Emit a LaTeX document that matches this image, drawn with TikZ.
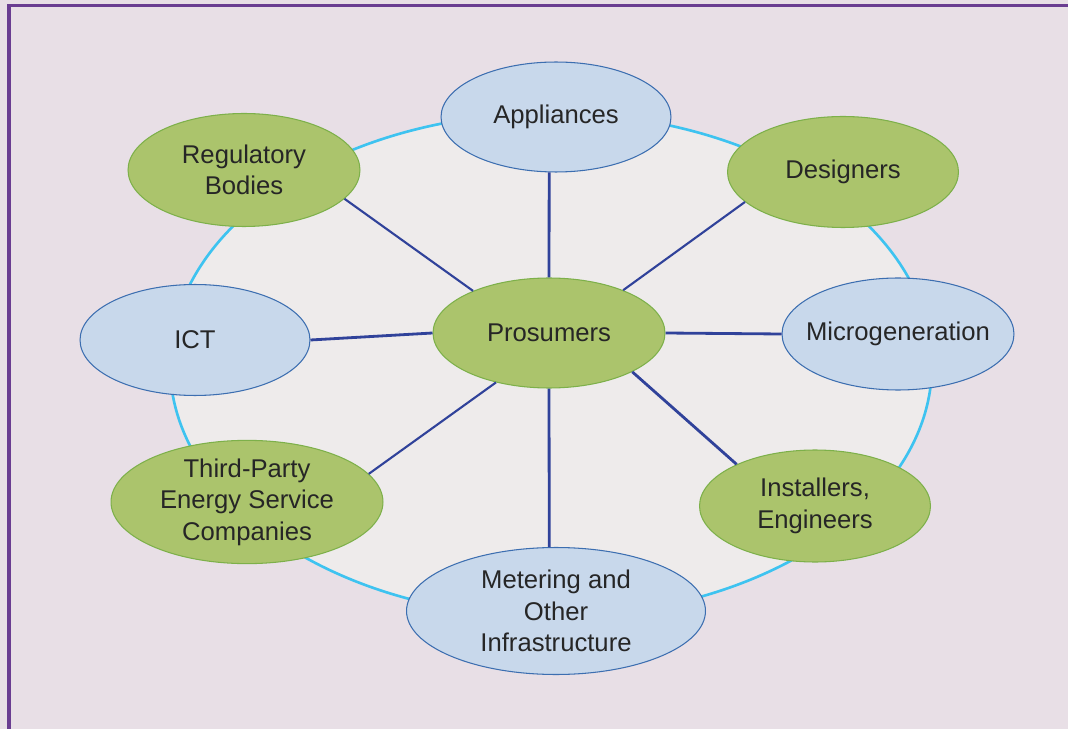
\documentclass[tikz,border=0pt]{standalone}
\usepackage{fontspec}
\setmainfont{Liberation Sans}
\usetikzlibrary{shapes.geometric}

\definecolor{bgout}{HTML}{E8DFE6}
\definecolor{bgin}{HTML}{EEEBEB}
\definecolor{framep}{HTML}{6A3D91}
\definecolor{ringc}{HTML}{3EC3F0}
\definecolor{leafg}{HTML}{ABC46C}
\definecolor{leafd}{HTML}{7DB04A}
\definecolor{skyb}{HTML}{C8D8EB}
\definecolor{skyd}{HTML}{3C6EB0}
\definecolor{linkb}{HTML}{30429A}

\begin{document}
\begin{tikzpicture}[x=0.02cm, y=-0.02cm,
        bub/.style={ellipse, inner sep=0pt, align=center, text=black!85,
            font=\fontsize{14.6}{18}\selectfont, line width=0.6pt},
        grn/.style={bub, fill=leafg, draw=leafd},
        blu/.style={bub, fill=skyb, draw=skyd},
        lnk/.style={draw=linkb, line width=1.2pt},
        lnkb/.style={lnk, line width=1.6pt}]
    \clip (0, 0) rectangle (1068, 729);
    \fill[bgout] (0, 0) rectangle (1068, 729);
    \draw[framep, line width=1.8pt] (9, 760) -- (9, 5.5) -- (1100, 5.5);

    % ring behind the bubbles
    \draw[ringc, line width=1.5pt, fill=bgin] (551, 365) ellipse [x radius=7.62cm, y radius=5.04cm];

    \node[grn, minimum width=4.64cm, minimum height=2.2cm] (pro) at (549, 333) {Prosumers};
    \node[blu, minimum width=4.6cm, minimum height=2.2cm] (app) at (556, 117) {Appliances};
    \node[grn, minimum width=4.64cm, minimum height=2.26cm] (reg) at (244, 170) {Regulatory\\Bodies};
    \node[grn, minimum width=4.62cm, minimum height=2.22cm] (des) at (843, 172) {Designers};
    \node[blu, minimum width=4.6cm, minimum height=2.22cm] (ict) at (195, 340) {ICT};
    \node[blu, inner xsep=-0.3cm, minimum width=4.64cm, minimum height=2.24cm] (mic) at (898, 334) {Microgeneration};
    \node[grn, minimum width=5.44cm, minimum height=2.46cm] (tpe) at (247, 502) {Third-Party\\Energy Service\\Companies};
    \node[grn, minimum width=4.62cm, minimum height=2.24cm] (ins) at (815, 506) {Installers,\\Engineers};
    \node[blu, minimum width=5.98cm, minimum height=2.54cm] (met) at (556, 611) {Metering and\\Other\\Infrastructure};

    % spokes out of the hub
    \draw[lnkb] (pro.90) -- (app.263);
    \draw[lnk] (pro.151) -- (reg.-16);
    \draw[lnk] (pro.30) -- (des.197);
    \draw[lnkb] (pro.west) -- (ict.east);
    \draw[lnkb] (pro.east) -- (mic.west);
    \draw[lnk] (pro.-137) -- (tpe.13);
    \draw[lnkb] (pro.-25) -- (ins.152);
    \draw[lnkb] (pro.-90) -- (met.96);
\end{tikzpicture}
\end{document}
